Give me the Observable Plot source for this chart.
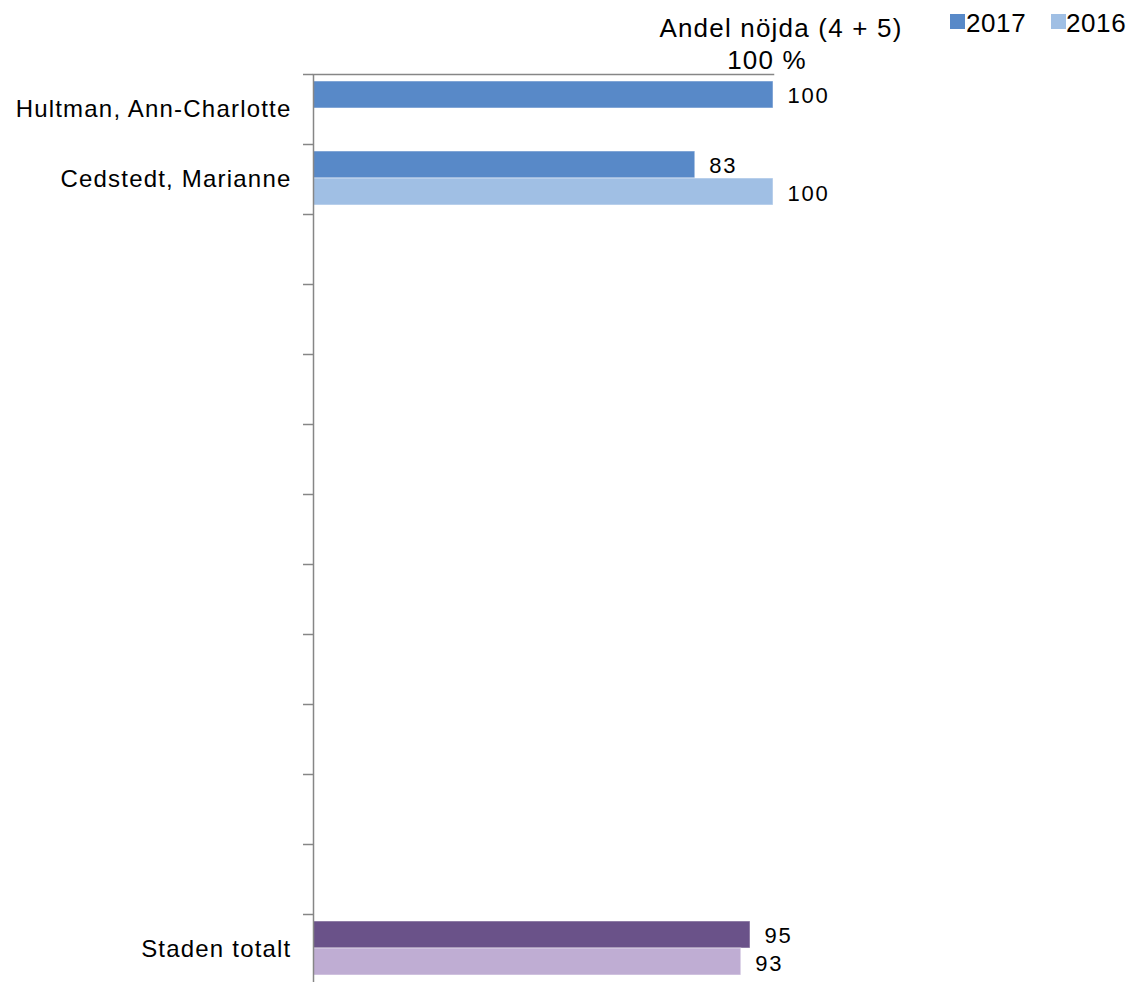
<!DOCTYPE html>
<html>
<head>
<meta charset="utf-8">
<script src="https://cdn.jsdelivr.net/npm/d3@7"></script>
<script src="https://cdn.jsdelivr.net/npm/@observablehq/plot@0.6"></script>
<style>
  html, body { margin: 0; padding: 0; background: #fff; }
  body { font-family: "Liberation Sans", Arial, sans-serif; }
  #wrap { position: relative; width: 1130px; height: 982px; }
  .hdr { position: absolute; color: #000; white-space: nowrap; line-height: 1; }
  .sw { position: absolute; width: 15px; height: 15px; }
  #chart svg text { letter-spacing: 1.2px; }
  #chart svg .vlab text { letter-spacing: 1.8px; }
</style>
</head>
<body>
<div id="wrap">
  <div class="hdr" id="title" style="left:581px; width:400px; text-align:center; top:15px; font-size:26px; letter-spacing:1.2px;">Andel nöjda (4 + 5)</div>
  <div class="hdr" id="unit" style="left:667px; width:200px; text-align:center; top:47px; font-size:26px; letter-spacing:1.2px;">100 %</div>
  <div id="legend"></div>
  <div id="chart"></div>
</div>
<script>
const categories = ["Hultman, Ann-Charlotte", "Cedstedt, Marianne", "_e1", "_e2", "_e3", "_e4", "_e5", "_e6", "_e7", "_e8", "_e9", "_e10", "Staden totalt"];
const values2017 = [100, 83, null, null, null, null, null, null, null, null, null, null, 95];
const values2016 = [null, 100, null, null, null, null, null, null, null, null, null, null, 93];
const seriesNames = ["2017", "2016"];
const colors2017 = ["#5889C8", "#5889C8", "#5889C8", "#5889C8", "#5889C8", "#5889C8", "#5889C8", "#5889C8", "#5889C8", "#5889C8", "#5889C8", "#5889C8", "#6A5289"];
const colors2016 = ["#A0BFE4", "#A0BFE4", "#A0BFE4", "#A0BFE4", "#A0BFE4", "#A0BFE4", "#A0BFE4", "#A0BFE4", "#A0BFE4", "#A0BFE4", "#A0BFE4", "#A0BFE4", "#BFADD3"];

const d17 = categories.map((c, i) => ({cat: c, v: values2017[i], color: colors2017[i]})).filter(d => d.v != null);
const d16 = categories.map((c, i) => ({cat: c, v: values2016[i], color: colors2016[i]})).filter(d => d.v != null);

// legend
const legend = document.getElementById("legend");
const legendItems = [
  {name: seriesNames[0], color: colors2017[0], sx: 950, tx: 966},
  {name: seriesNames[1], color: colors2016[0], sx: 1051, tx: 1066}
];
legend.innerHTML = legendItems.map(it =>
  `<span class="sw" style="left:${it.sx}px; top:14px; background:${it.color}"></span>` +
  `<span class="hdr" style="left:${it.tx}px; top:10px; font-size:26px; letter-spacing:0.6px;">${it.name}</span>`
).join("");

const font = "Liberation Sans, Arial, sans-serif";
const axisColor = "#868686";

const plot = Plot.plot({
  width: 1130,
  height: 982,
  marginLeft: 313,
  marginRight: 357,
  marginTop: 74,
  marginBottom: 0,
  style: {fontFamily: font, fontSize: "20px", color: "#000", background: "transparent", overflow: "visible"},
  x: {domain: [0, 100], axis: null},
  y: {domain: categories, range: [74, 984], padding: 0, axis: null},
  marks: [
    Plot.barX(d17, {x: "v", y: "cat", fill: "color", insetTop: 7, insetBottom: 36, stroke: "#fff", strokeOpacity: 0.5, strokeWidth: 1}),
    Plot.barX(d16, {x: "v", y: "cat", fill: "color", insetTop: 34, insetBottom: 9, stroke: "#fff", strokeOpacity: 0.5, strokeWidth: 1}),
    Plot.ruleX([0], {stroke: axisColor, strokeWidth: 1.5}),
    Plot.frame({anchor: "top", stroke: axisColor, strokeWidth: 1.5}),
    Plot.axisY({label: null, tickSize: 0, tickPadding: 22, fontSize: 24, tickFormat: d => d.startsWith("_e") ? "" : d, color: "#000"}),
    Plot.axisY({label: null, tickSize: 10, tickFormat: null, dy: -35, stroke: axisColor, strokeWidth: 1.5}),
    Plot.axisY({label: null, ticks: [categories[categories.length - 1]], tickSize: 10, tickFormat: null, dy: 35, stroke: axisColor, strokeWidth: 1.5}),
    Plot.text(d17, {x: "v", y: "cat", text: d => String(d.v), textAnchor: "start", dx: 14, dy: -14, fontSize: 22, fill: "#000", className: "vlab"}),
    Plot.text(d16, {x: "v", y: "cat", text: d => String(d.v), textAnchor: "start", dx: 14, dy: 14, fontSize: 22, fill: "#000", className: "vlab"})
  ]
});
document.getElementById("chart").appendChild(plot);
</script>
</body>
</html>
